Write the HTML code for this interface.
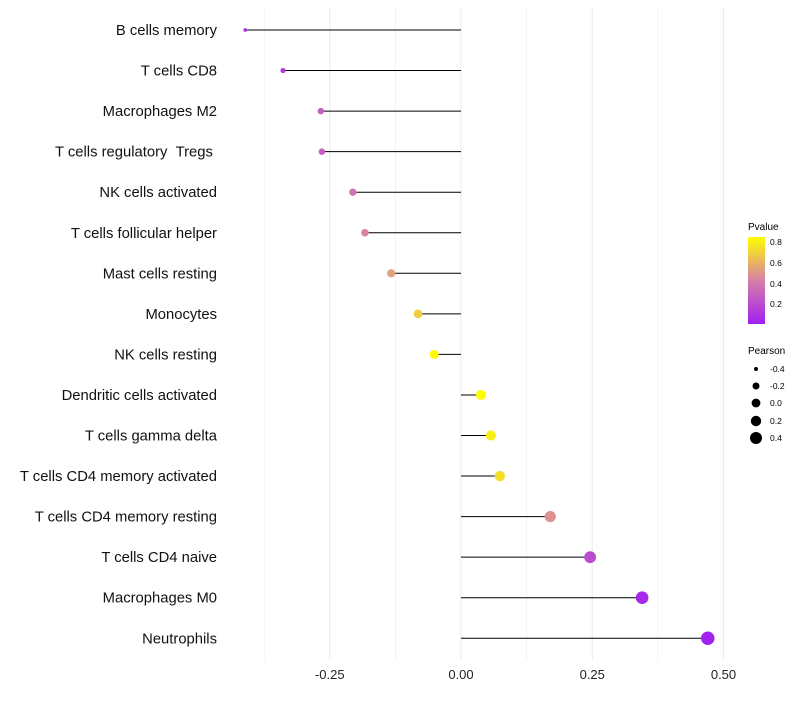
<!DOCTYPE html>
<html><head><meta charset="utf-8"><style>
body{margin:0;background:#fff;font-family:"Liberation Sans",sans-serif}
</style></head><body>
<svg id="chart" width="800" height="700" xmlns="http://www.w3.org/2000/svg" font-family="Liberation Sans, sans-serif">
<defs><linearGradient id="pg" x1="0" y1="1" x2="0" y2="0">
<stop offset="0" stop-color="#a020f0"/><stop offset="0.5" stop-color="#d77fa8"/><stop offset="1" stop-color="#ffff00"/></linearGradient></defs>
<g id="grid"></g><g id="marks"></g><g id="labels"></g>
<g>
<text x="748" y="230" font-size="10">Pvalue</text>
<rect x="748" y="237" width="17" height="87" fill="url(#pg)"/>
<text x="770" y="245" font-size="8.5">0.8</text>
<text x="770" y="266" font-size="8.5">0.6</text>
<text x="770" y="287" font-size="8.5">0.4</text>
<text x="770" y="307" font-size="8.5">0.2</text>
</g>
<g>
<text x="748" y="354" font-size="10">Pearson</text>
<circle cx="756" cy="369" r="2"/><text x="770" y="372" font-size="8.5">-0.4</text>
<circle cx="756" cy="386" r="3.5"/><text x="770" y="389" font-size="8.5">-0.2</text>
<circle cx="756" cy="403" r="4.4"/><text x="770" y="406" font-size="8.5">0.0</text>
<circle cx="756" cy="421" r="5.2"/><text x="770" y="424" font-size="8.5">0.2</text>
<circle cx="756" cy="438" r="6"/><text x="770" y="441" font-size="8.5">0.4</text>
</g>
</svg>
<script>
const categories=["B cells memory","T cells CD8","Macrophages M2","T cells regulatory\u00a0\u00a0Tregs\u00a0","NK cells activated","T cells follicular helper","Mast cells resting","Monocytes","NK cells resting","Dendritic cells activated","T cells gamma delta","T cells CD4 memory activated","T cells CD4 memory resting","T cells CD4 naive","Macrophages M0","Neutrophils"];
const pearson=[-0.411,-0.339,-0.267,-0.265,-0.206,-0.183,-0.133,-0.082,-0.051,0.038,0.057,0.074,0.170,0.246,0.345,0.470];
const pvalues=[0.12,0.15,0.30,0.30,0.38,0.45,0.55,0.70,0.85,0.85,0.80,0.75,0.50,0.22,0.06,0.03];
const ticks=[-0.25,0,0.25,0.5];
const tickLabels=["-0.25","0.00","0.25","0.50"];
const NS="http://www.w3.org/2000/svg";
const x=v=>461+v*525;
const y=i=>30+i*40.55;
const rScale=v=>Math.sqrt(Math.max(3,4+(v+0.4)*48));
function lerp(a,b,t){return a.map((c,k)=>Math.round(c+(b[k]-c)*t));}
function col(p){const lo=[160,32,240],mid=[215,127,168],hi=[255,255,0];
 const t=Math.max(0,Math.min(1,(p-0.02)/0.84));
 const c=t<0.5?lerp(lo,mid,t*2):lerp(mid,hi,(t-0.5)*2);return `rgb(${c})`;}
function el(tag,attrs,parent){const e=document.createElementNS(NS,tag);for(const k in attrs)e.setAttribute(k,attrs[k]);parent.appendChild(e);return e;}
const grid=document.getElementById('grid'),marks=document.getElementById('marks'),labels=document.getElementById('labels');
for(let v=-0.375;v<=0.5+1e-9;v+=0.125){
 const g=el('line',{x1:x(v),x2:x(v),y1:8,y2:660,stroke:'#ebebeb','stroke-width':Math.abs((v*4)%1)<1e-6?1:0.6},grid);
 
 
}
ticks.forEach((t,i)=>{const tx=el('text',{x:x(t),y:679,'font-size':13,'text-anchor':'middle',fill:'#222'},labels);tx.textContent=tickLabels[i];
 
 });
categories.forEach((c,i)=>{
 const t=el('text',{x:217,y:y(i)+5,'font-size':14.8,'text-anchor':'end',fill:'#111'},labels);t.textContent=c;
 
 
 const l=el('line',{x1:x(0),x2:x(pearson[i]),y1:y(i),y2:y(i),stroke:'#000','stroke-width':1},marks);
 
 
 const d=el('circle',{cx:x(pearson[i]),cy:y(i),r:rScale(pearson[i]),fill:col(pvalues[i])},marks);
 
 
});
</script>
</body></html>
